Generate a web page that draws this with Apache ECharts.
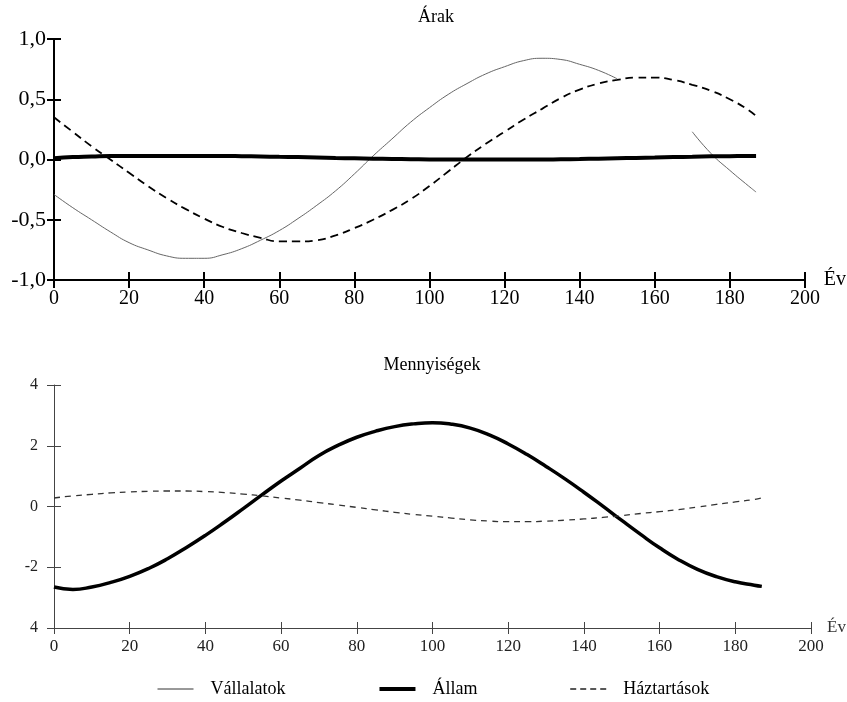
<!DOCTYPE html>
<html>
<head>
<meta charset="utf-8">
<script src="https://cdn.jsdelivr.net/npm/echarts@6/dist/echarts.min.js"></script>
<style>
html,body{margin:0;padding:0;background:#fff;}
#chart{width:847px;height:702px;}
</style>
</head>
<body>
<div id="chart"></div>
<script>
// ---- Data ----
const years = [0,5,10,15,20,25,30,35,40,45,50,55,60,65,70,75,80,85,90,95,100,105,110,115,120,125,130,135,140,145,150,155,160,165,170,175,180,185,187];

// Árak (prices)
const vallalatokArak = [-0.29,-0.40,-0.50,-0.60,-0.69,-0.75,-0.80,-0.82,-0.82,-0.79,-0.74,-0.67,-0.59,-0.49,-0.38,-0.26,-0.12,0.03,0.17,0.31,0.43,0.54,0.63,0.71,0.77,0.82,0.84,0.83,0.79,0.74,0.67,null,null,null,0.23,0.05,-0.09,-0.22,-0.27];
const allamArak = [0.01,0.02,0.025,0.03,0.03,0.03,0.03,0.03,0.03,0.03,0.028,0.025,0.022,0.02,0.017,0.013,0.01,0.007,0.005,0.003,0.0,0.0,0.0,0.0,0.0,0.0,0.0,0.002,0.004,0.007,0.01,0.013,0.016,0.02,0.023,0.026,0.028,0.03,0.03];
const haztartasokArak = [0.35,0.23,0.11,0.0,-0.11,-0.22,-0.32,-0.41,-0.49,-0.56,-0.61,-0.65,-0.68,-0.68,-0.67,-0.63,-0.57,-0.50,-0.42,-0.33,-0.22,-0.10,0.02,0.13,0.23,0.33,0.42,0.51,0.58,0.63,0.66,0.68,0.68,0.66,0.62,0.57,0.50,0.41,0.36];

// Mennyiségek (quantities)
const allamMenny = [-2.65,-2.73,-2.65,-2.50,-2.30,-2.04,-1.72,-1.35,-0.95,-0.52,-0.07,0.39,0.84,1.26,1.68,2.01,2.28,2.48,2.63,2.72,2.76,2.71,2.58,2.36,2.06,1.71,1.32,0.91,0.47,0.01,-0.46,-0.92,-1.36,-1.75,-2.07,-2.31,-2.48,-2.59,-2.63];
const haztartasokMenny = [0.28,0.35,0.40,0.45,0.48,0.50,0.51,0.51,0.49,0.46,0.41,0.35,0.28,0.21,0.13,0.05,-0.03,-0.11,-0.19,-0.26,-0.32,-0.38,-0.44,-0.48,-0.50,-0.50,-0.48,-0.45,-0.41,-0.36,-0.30,-0.23,-0.17,-0.10,-0.02,0.07,0.15,0.23,0.28];

// Tick labels
const arakTickValues = [-1,-0.5,0,0.5,1];
const arakTickLabels = ['-1,0','-0,5','0,0','0,5','1,0'];
const mennyTickValues = [-4,-2,0,2,4];
const mennyTickLabels = ['4','-2','0','2','4'];

const seriesNames = ['Vállalatok','Állam','Háztartások'];
const titles = ['Árak','Mennyiségek'];
const xName = 'Év';

// ---- Chart ----
const FONT = '"Liberation Serif", "DejaVu Serif", serif';
const pairs = (ys) => years.map((x, i) => [x, ys[i]]);
const labelFrom = (vals, labs) => (v) => {
  for (let i = 0; i < vals.length; i++) if (Math.abs(vals[i] - v) < 1e-9) return labs[i];
  return '';
};

function xAxes(grid) {
  const base = {gridIndex: grid, type: 'value', min: 0, max: 200, interval: 20, position: 'bottom', splitLine: {show: false}};
  const w = grid === 0 ? 2 : 1;
  const col = grid === 0 ? '#000' : '#444';
  const tl = grid === 0 ? 8 : 6;
  return [
    Object.assign({}, base, {
      axisLine: {show: true, onZero: false, lineStyle: {color: col, width: w}},
      axisTick: {show: true, inside: false, length: tl, lineStyle: {color: col, width: w}},
      axisLabel: {show: true, margin: grid === 0 ? 9 : 10, color: grid === 0 ? '#000' : '#222', fontFamily: FONT, fontSize: grid === 0 ? 20 : 17},
      name: xName, nameLocation: 'end', nameGap: 16,
      nameTextStyle: {fontFamily: FONT, fontSize: grid === 0 ? 20 : 17, color: grid === 0 ? '#000' : '#333', verticalAlign: 'middle'}
    }),
    Object.assign({}, base, {
      axisLine: {show: false, onZero: false},
      axisTick: {show: true, inside: true, length: tl, lineStyle: {color: col, width: w}},
      axisLabel: {show: false}
    })
  ];
}
function yAxes(grid, min, max, interval, fmt) {
  const base = {gridIndex: grid, type: 'value', min: min, max: max, interval: interval, position: 'left', splitLine: {show: false}};
  const w = grid === 0 ? 2 : 1;
  const col = grid === 0 ? '#000' : '#444';
  return [
    Object.assign({}, base, {
      axisLine: {show: true, onZero: false, lineStyle: {color: col, width: w}},
      axisTick: {show: true, inside: false, length: 7, lineStyle: {color: col, width: w}},
      axisLabel: {show: true, margin: grid === 0 ? 8 : 16, color: grid === 0 ? '#000' : '#222', fontFamily: FONT, fontSize: grid === 0 ? 22 : 16, formatter: fmt}
    }),
    Object.assign({}, base, {
      axisLine: {show: false, onZero: false},
      axisTick: {show: true, inside: true, length: 7, lineStyle: {color: col, width: w}},
      axisLabel: {show: false}
    })
  ];
}

const hiddenSymbol = {color: 'rgba(0,0,0,0)', borderWidth: 0, opacity: 0};

const chart = echarts.init(document.getElementById('chart'), null, {renderer: 'canvas'});
chart.setOption({
  animation: false,
  backgroundColor: '#fff',
  textStyle: {fontFamily: FONT},
  graphic: [
    {type: 'text', x: 436, y: 17, style: {text: titles[0], font: '18px ' + FONT, fill: '#000', textAlign: 'center', textVerticalAlign: 'middle'}},
    {type: 'text', x: 432, y: 365, style: {text: titles[1], font: '18px ' + FONT, fill: '#000', textAlign: 'center', textVerticalAlign: 'middle'}}
  ],
  grid: [
    {left: 54, top: 39, width: 756, height: 241, containLabel: false},
    {left: 54, top: 385, width: 757, height: 243, containLabel: false}
  ],
  xAxis: [].concat(xAxes(0), xAxes(1)),
  yAxis: [].concat(
    yAxes(0, -1, 1, 0.5, labelFrom(arakTickValues, arakTickLabels)),
    yAxes(1, -4, 4, 2, labelFrom(mennyTickValues, mennyTickLabels))
  ),
  legend: {
    left: 152, top: 675,
    itemWidth: 36, itemHeight: 14, itemGap: 92,
    textStyle: {fontFamily: FONT, fontSize: 18, color: '#000', padding: [0, 0, 0, 12]},
    itemStyle: hiddenSymbol,
    data: [
      {name: seriesNames[0], itemStyle: hiddenSymbol, lineStyle: {color: '#333', width: 1, type: 'solid'}},
      {name: seriesNames[1], itemStyle: hiddenSymbol, lineStyle: {color: '#000', width: 4, type: 'solid'}},
      {name: seriesNames[2], itemStyle: hiddenSymbol, lineStyle: {color: '#222', width: 1.5, type: [6, 4]}}
    ],
    selectedMode: false
  },
  series: [
    {name: seriesNames[0], type: 'line', xAxisIndex: 0, yAxisIndex: 0, data: pairs(vallalatokArak), symbol: 'none', smooth: true, connectNulls: false, lineStyle: {color: '#666', width: 1}, itemStyle: {color: '#666'}},
    {name: seriesNames[1], type: 'line', xAxisIndex: 0, yAxisIndex: 0, data: pairs(allamArak), symbol: 'none', smooth: true, lineStyle: {color: '#000', width: 4}, itemStyle: {color: '#000'}},
    {name: seriesNames[2], type: 'line', xAxisIndex: 0, yAxisIndex: 0, data: pairs(haztartasokArak), symbol: 'none', smooth: true, lineStyle: {color: '#000', width: 1.8, type: [8, 5]}, itemStyle: {color: '#000'}},
    {name: seriesNames[1], type: 'line', xAxisIndex: 2, yAxisIndex: 2, data: pairs(allamMenny), symbol: 'none', smooth: true, lineStyle: {color: '#000', width: 3.5}, itemStyle: {color: '#000'}},
    {name: seriesNames[2], type: 'line', xAxisIndex: 2, yAxisIndex: 2, data: pairs(haztartasokMenny), symbol: 'none', smooth: true, lineStyle: {color: '#333', width: 1.3, type: [6, 5]}, itemStyle: {color: '#333'}}
  ]
});
</script>
</body>
</html>
